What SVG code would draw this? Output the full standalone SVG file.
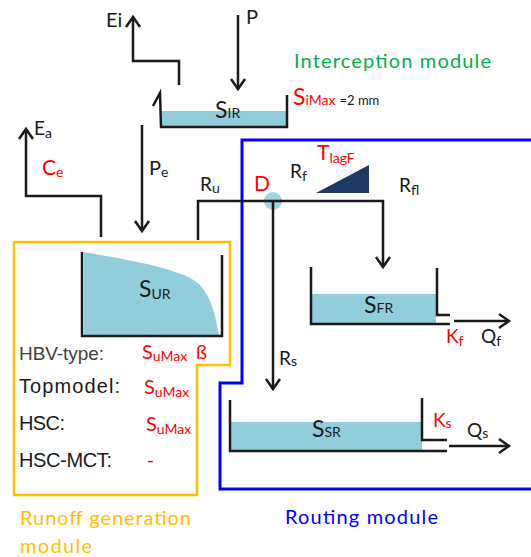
<svg xmlns="http://www.w3.org/2000/svg" width="531" height="557" viewBox="0 0 531 557">
<style>
text{font-family:Lato,"Open Sans","Liberation Sans",sans-serif;fill:#1a1a1a;font-size:19px}
.arial{font-family:"Liberation Sans",Arial,sans-serif;font-size:20px}
.red{fill:#ff0000}
.sub{font-size:14px}
.big{font-size:23px}
.line{fill:none;stroke:#1a1a1a;stroke-width:2.5}
.arrow{fill:none;stroke:#1a1a1a;stroke-width:2.5;marker-end:url(#ah)}
.water{fill:#92cddc}
</style>
<defs>
<marker id="ah" markerUnits="userSpaceOnUse" markerWidth="24" markerHeight="24" refX="0" refY="0" viewBox="-14 -12 18 24" orient="auto">
<path d="M-10,-7 L0,0 L-10,7" fill="none" stroke="#1a1a1a" stroke-width="2.5"/>
</marker>
</defs>
<g id="modules">
<path id="runoff-border" d="M14,242 H230 V365 H197 V495 H14 Z" fill="none" stroke="#ffc000" stroke-width="2.5"/>
<path id="routing-border" d="M533,140 H242 V383 H220 V489 H533" fill="none" stroke="#0000ff" stroke-width="3"/>
</g>
<g id="connectors">
<path class="arrow" d="M179,85 V61 H133 V17"/>
<path class="arrow" d="M238,15 V89"/>
<path class="arrow" d="M101,237 V196 H26 V129"/>
<path class="arrow" d="M142,125 V231"/>
<path class="arrow" d="M198,240 V201 H383 V267"/>
<path class="arrow" d="M273,201 V389"/>
<path class="arrow" d="M454,321 H509"/>
<path class="arrow" d="M449,446 H509"/>
<circle cx="273" cy="201" r="9" fill="#92cddc" fill-opacity="0.85"/>
<path d="M273,201 V210" class="line"/>
<path d="M264,201 H282" class="line"/>
</g>
<g id="S_IR">
<rect class="water" x="162" y="111" width="124" height="16"/>
<path class="line" d="M153,106 L160,93 L161,127 H287 V95"/>
<text x="215" y="118" class="big">S<tspan class="sub">IR</tspan></text>
</g>
<g id="S_UR">
<path class="water" d="M84,252 C140,262 185,270 200,285 C212,298 216,318 219,336 H84 Z"/>
<path class="line" d="M82,252 V336 H222 V255"/>
<text x="139" y="297" class="big">S<tspan class="sub" dy="2">UR</tspan></text>
</g>
<g id="S_FR">
<rect class="water" x="312" y="294" width="124" height="30"/>
<path class="line" d="M311,267 V324 H450"/>
<path class="line" d="M437,268 V315 H450"/>
<text x="364" y="313" class="big">S<tspan class="sub">FR</tspan></text>
</g>
<g id="S_SR">
<rect class="water" x="231" y="422" width="191" height="29"/>
<path class="line" d="M230,400 V451 H447"/>
<path class="line" d="M422,398 V440 H447"/>
<text x="312" y="437" class="big">S<tspan class="sub">SR</tspan></text>
</g>
<g id="lag">
<path d="M316,193 L369,193 L369,165 Z" fill="#1f3864"/>
</g>
<g id="labels">
<text x="106" y="27" style="font-size:20px">Ei</text>
<text x="246" y="24" style="font-size:20px">P</text>
<text x="293" y="105" class="red big">S<tspan class="sub">iMax</tspan><tspan dx="4" style="fill:#1a1a1a;font-size:13px">=2 mm</tspan></text>
<text x="294" y="68" style="fill:#00b050;font-size:20px" textLength="197">Interception module</text>
<text x="34" y="135">E<tspan class="sub" dy="3">a</tspan></text>
<text x="42" y="175" class="red" style="font-size:21px">C<tspan class="sub" dy="2">e</tspan></text>
<text x="149" y="175" style="font-size:20px">P<tspan class="sub" dy="2">e</tspan></text>
<text x="200" y="191">R<tspan class="sub" dy="2">u</tspan></text>
<text x="254" y="191" class="red" style="font-size:21px">D</text>
<text x="290" y="178">R<tspan class="sub" dy="3">f</tspan></text>
<text x="317" y="160" class="red" style="font-size:21px">T<tspan class="sub" dy="3">lagF</tspan></text>
<text x="399" y="192">R<tspan class="sub" dy="3">fl</tspan></text>
<text x="279" y="365">R<tspan class="sub" dy="1">s</tspan></text>
<text x="446" y="343" class="red">K<tspan class="sub" dy="3">f</tspan></text>
<text x="481" y="343">Q<tspan class="sub" dy="3">f</tspan></text>
<text x="433" y="427" class="red">K<tspan class="sub" dy="1">s</tspan></text>
<text x="467" y="437">Q<tspan class="sub" dy="1">s</tspan></text>
<text x="285" y="524" style="fill:#0000ff;font-size:20px" textLength="153">Routing module</text>
<text x="20" y="525" style="fill:#ffc000;font-size:20px" textLength="171">Runoff generation</text>
<text x="20" y="553" style="fill:#ffc000;font-size:20px" textLength="72">module</text>
</g>
<g id="model-table">
<text x="19" y="360" class="arial" style="fill:#404040;font-size:19px" textLength="85">HBV-type:</text>
<text x="142" y="359" class="red" style="font-size:20px">S<tspan class="sub" dy="2">uMax</tspan></text>
<text x="196" y="359" class="red" style="font-size:19px">ß</text>
<text x="19" y="393" class="arial" textLength="101">Topmodel:</text>
<text x="144" y="394" class="red" style="font-size:20px">S<tspan class="sub" dy="3">uMax</tspan></text>
<text x="19" y="430" class="arial" textLength="46">HSC:</text>
<text x="146" y="431" class="red" style="font-size:20px">S<tspan class="sub" dy="3">uMax</tspan></text>
<text x="19" y="467" class="arial" textLength="93">HSC-MCT:</text>
<text x="147" y="467" class="red" style="font-size:19px">-</text>
</g>
</svg>
